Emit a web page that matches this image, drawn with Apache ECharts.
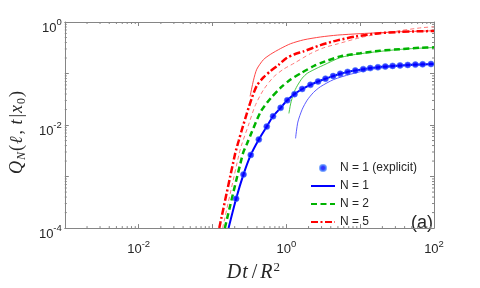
<!DOCTYPE html>
<html><head><meta charset="utf-8">
<script src="https://cdn.jsdelivr.net/npm/echarts@6/dist/echarts.min.js"></script>
<style>html,body{margin:0;padding:0;background:#fff}#c{width:480px;height:288px}</style>
</head><body><div id="c"></div>
<script>
// ---- data ----
const explicitT = [0.209, 0.263, 0.330, 0.424, 0.543, 0.661, 0.838, 1.03, 1.29, 1.64, 2.12, 2.69, 3.39, 4.30, 5.37, 6.76, 8.59, 11.0, 13.7, 17.4, 21.9, 27.5, 34.7, 44.1, 55.9, 70.2, 91.0];
const explicitQ = [3.72e-4, 1.10e-3, 2.63e-3, 5.25e-3, 9.33e-3, 0.0148, 0.0216, 0.0302, 0.0398, 0.0501, 0.0603, 0.0700, 0.0794, 0.0891, 0.0989, 0.1076, 0.1148, 0.1216, 0.1274, 0.1324, 0.1368, 0.1406, 0.1439, 0.1466, 0.1489, 0.1510, 0.1528];

const n1T = [0.165, 0.209, 0.263, 0.330, 0.424, 0.543, 0.661, 0.838, 1.03, 1.29, 1.64, 2.12, 2.69, 3.39, 4.30, 5.37, 6.76, 8.59, 11.0, 13.7, 17.4, 21.9, 27.5, 34.7, 44.1, 55.9, 70.2, 91.0, 100];
const n1Q = [1e-4, 3.72e-4, 1.10e-3, 2.63e-3, 5.25e-3, 9.33e-3, 0.0148, 0.0216, 0.0302, 0.0398, 0.0501, 0.0603, 0.0700, 0.0794, 0.0891, 0.0989, 0.1076, 0.1148, 0.1216, 0.1274, 0.1324, 0.1368, 0.1406, 0.1439, 0.1466, 0.1489, 0.1510, 0.1528, 0.1532];

const n2T = [0.147, 0.258, 0.292, 0.330, 0.451, 0.614, 0.838, 1.14, 1.64, 2.36, 2.90, 5.39, 10.0, 18.6, 34.7, 64.6, 100];
const n2Q = [1e-4, 2.79e-3, 4.27e-3, 6.55e-3, 0.0183, 0.0332, 0.0531, 0.0764, 0.105, 0.140, 0.159, 0.215, 0.247, 0.277, 0.297, 0.316, 0.322];

const n5T = [0.1236, 0.2028, 0.2275, 0.250, 0.2917, 0.3404, 0.398, 0.494, 0.614, 0.787, 1.009, 1.294, 1.711, 2.90, 4.91, 8.59, 18.6, 34.7, 64.6, 100];
const n5Q = [1e-4, 2.79e-3, 5.07e-3, 8.11e-3, 0.01676, 0.0332, 0.0579, 0.0850, 0.1122, 0.148, 0.1999, 0.237, 0.269, 0.356, 0.440, 0.522, 0.607, 0.641, 0.661, 0.669];

// thin approximation curves
const approx5DashT = [0.1371, 0.2297, 0.250, 0.3076, 0.3776, 0.490, 0.668, 0.912, 1.306, 2.125, 3.21, 4.87, 10.0, 18.6, 34.7, 68.1, 100];
const approx5DashQ = [1e-4, 2.79e-3, 4.27e-3, 0.01004, 0.0236, 0.0482, 0.0850, 0.121, 0.1614, 0.244, 0.316, 0.374, 0.496, 0.594, 0.681, 0.774, 0.808];

const approx5T = [0.323, 0.359, 0.398, 0.490, 0.614, 0.838, 1.143, 1.711, 2.90, 4.91, 10.0, 18.6, 34.7, 100];
const approx5Q = [0.0361, 0.0738, 0.121, 0.186, 0.237, 0.306, 0.379, 0.450, 0.512, 0.557, 0.594, 0.620, 0.647, 0.675];

const approx2T = [1.084, 1.143, 1.254, 1.407, 1.644, 1.919, 2.618, 3.18, 5.39, 10.0, 34.7, 100];
const approx2Q = [0.0168, 0.0257, 0.0411, 0.0579, 0.0815, 0.1009, 0.1276, 0.145, 0.204, 0.242, 0.294, 0.320];

const approx1T = [1.334, 1.432, 1.644, 1.919, 2.333, 2.90, 4.38, 7.36, 13.68, 34.7, 100];
const approx1Q = [5.52e-3, 0.01142, 0.0203, 0.0305, 0.0429, 0.0555, 0.0764, 0.0966, 0.1197, 0.139, 0.150];

const legendNames = ['N = 1 (explicit)', 'N = 1', 'N = 2', 'N = 5'];
const xTickLabelExps = [-2, 0, 2];
const yTickLabelExps = [0, -2, -4];
const panelLabel = '(a)';

// ---- helpers ----
const zip = (a, b) => a.map((v, i) => [v, b[i]]);
const axisColor = '#858585';
const textColor = '#262626';
const sans = 'Liberation Sans, Arial, sans-serif';
const serif = 'Liberation Serif, Times New Roman, serif';

function expFormatter(list) {
  return v => {
    const e = Math.round(Math.log10(v));
    return list.includes(e) ? '{b|10}{s|' + e + '}' : '';
  };
}
const labelRich = {
  b: {fontSize: 13, lineHeight: 17, verticalAlign: 'bottom', color: textColor, fontFamily: sans},
  s: {fontSize: 9.5, lineHeight: 10, verticalAlign: 'top', color: textColor, fontFamily: sans}
};

const minorX = [];
for (let d = -3; d < 2; d++) for (let m = 2; m < 10; m++) minorX.push(m * Math.pow(10, d));
const minorY = [];
for (let d = -4; d < 0; d++) for (let m = 2; m < 10; m++) minorY.push(m * Math.pow(10, d));
const minorData = minorX.map(v => [v, 1e-4, 0]).concat(minorY.map(v => [1e-3, v, 1]));

const XMIN = 1e-3, XMAX = 100, YMIN = 1e-4, YMAX = 1;

function baseAxis(extra) {
  return Object.assign({
    type: 'log', logBase: 10,
    axisLine: {show: true, lineStyle: {color: axisColor, width: 1}},
    axisTick: {show: true, inside: true, length: 4, lineStyle: {color: axisColor}},
    splitLine: {show: false},
    minorTick: {show: false},
    minorSplitLine: {show: false}
  }, extra);
}

const chart = echarts.init(document.getElementById('c'), null, {renderer: 'canvas'});
chart.setOption({
  animation: false,
  backgroundColor: '#fff',
  grid: {left: 62, right: 46, top: 22, bottom: 50, containLabel: false},
  xAxis: [
    baseAxis({
      min: XMIN, max: XMAX, position: 'bottom',
      axisLabel: {formatter: expFormatter(xTickLabelExps), margin: 11, rich: labelRich},
      name: '{i|D}{i|t}{r|/}{i|R}{sup|2}',
      nameLocation: 'middle', nameGap: 27,
      nameTextStyle: {
        padding: [0, 0, 0, 8],
        rich: {
          i: {fontFamily: serif, fontStyle: 'italic', fontSize: 20, lineHeight: 22, verticalAlign: 'bottom', color: textColor, padding: [0, 1, 0, 0]},
          r: {fontFamily: serif, fontSize: 20, lineHeight: 22, verticalAlign: 'bottom', color: textColor, padding: [0, 3, 0, 3]},
          sup: {fontFamily: serif, fontSize: 13, lineHeight: 12, verticalAlign: 'top', color: textColor}
        }
      }
    }),
    baseAxis({min: XMIN, max: XMAX, position: 'top', axisLabel: {show: false}})
  ],
  yAxis: [
    baseAxis({
      min: YMIN, max: YMAX, position: 'left',
      axisLabel: {formatter: expFormatter(yTickLabelExps), margin: 3, rich: labelRich, padding: [8, 0, 0, 0]},
      name: '{i|Q}{sub|N}{r|(}{i|ℓ}{r|, }{i|t}{r||}{i|x}{sub0|0}{r|)}',
      nameLocation: 'middle', nameGap: 36, nameRotate: 90,
      nameTextStyle: {
        padding: [0, 14, 0, 0],
        rich: {
          i: {fontFamily: serif, fontStyle: 'italic', fontSize: 18, lineHeight: 22, verticalAlign: 'middle', color: textColor, padding: [0, 1, 0, 0]},
          r: {fontFamily: serif, fontSize: 18, lineHeight: 22, verticalAlign: 'middle', color: textColor, padding: [0, 1, 0, 1]},
          sub: {fontFamily: serif, fontStyle: 'italic', fontSize: 12, lineHeight: 10, verticalAlign: 'bottom', color: textColor},
          sub0: {fontFamily: serif, fontSize: 12, lineHeight: 10, verticalAlign: 'bottom', color: textColor}
        }
      }
    }),
    baseAxis({min: YMIN, max: YMAX, position: 'right', axisLabel: {show: false}})
  ],
  legend: {
    orient: 'vertical', left: 310, top: 162, padding: 0,
    itemWidth: 24, itemHeight: 6, itemGap: 6,
    data: [
      {name: legendNames[0]},
      {name: legendNames[1], itemStyle: {opacity: 0}},
      {name: legendNames[2], itemStyle: {opacity: 0}},
      {name: legendNames[3], itemStyle: {opacity: 0}}
    ],
    selectedMode: false,
    textStyle: {fontSize: 12, fontFamily: sans, color: textColor}
  },
  graphic: [{
    type: 'text', left: 411, top: 214, silent: true,
    style: {text: panelLabel, fontSize: 18, fontFamily: sans, fill: textColor}
  }],
  series: [
    {type: 'custom', silent: true, clip: false, z: 1, encode: {x: 0, y: 1},
     data: minorData,
     renderItem: (params, api) => {
       const kind = api.value(2);
       const L = 2;
       if (kind === 0) {
         const b = api.coord([api.value(0), YMIN]);
         const t = api.coord([api.value(0), YMAX]);
         return {type: 'group', children: [
           {type: 'line', shape: {x1: b[0], y1: b[1], x2: b[0], y2: b[1] - L}, style: {stroke: axisColor, lineWidth: 1}},
           {type: 'line', shape: {x1: t[0], y1: t[1], x2: t[0], y2: t[1] + L}, style: {stroke: axisColor, lineWidth: 1}}
         ]};
       } else {
         const l = api.coord([XMIN, api.value(1)]);
         const r = api.coord([XMAX, api.value(1)]);
         return {type: 'group', children: [
           {type: 'line', shape: {x1: l[0], y1: l[1], x2: l[0] + L, y2: l[1]}, style: {stroke: axisColor, lineWidth: 1}},
           {type: 'line', shape: {x1: r[0], y1: r[1], x2: r[0] - L, y2: r[1]}, style: {stroke: axisColor, lineWidth: 1}}
         ]};
       }
     }},
    {name: 'approx5dash', type: 'line', data: zip(approx5DashT, approx5DashQ), symbol: 'none', smooth: 0.25, z: 2,
     lineStyle: {color: '#ff7a7a', width: 1, type: [4, 3]}},
    {name: 'approx5', type: 'line', data: zip(approx5T, approx5Q), symbol: 'none', smooth: 0.25, z: 2,
     lineStyle: {color: '#ff3030', width: 0.9}},
    {name: 'approx2', type: 'line', data: zip(approx2T, approx2Q), symbol: 'none', smooth: 0.25, z: 2,
     lineStyle: {color: '#30c030', width: 0.9}},
    {name: 'approx1', type: 'line', data: zip(approx1T, approx1Q), symbol: 'none', smooth: 0.25, z: 2,
     lineStyle: {color: '#4a4aff', width: 0.9}},
    {name: 'N = 5', type: 'line', data: zip(n5T, n5Q), symbol: 'none', smooth: 0.25, z: 3,
     color: '#ff0000', lineStyle: {color: '#ff0000', width: 2.5, type: [7, 2.5, 2, 2.5]}},
    {name: 'N = 2', type: 'line', data: zip(n2T, n2Q), symbol: 'none', smooth: 0.25, z: 3,
     color: '#00b300', lineStyle: {color: '#00b300', width: 2.5, type: [6, 3.5]}},
    {name: 'N = 1', type: 'line', data: zip(n1T, n1Q), symbol: 'none', smooth: 0.25, z: 4,
     color: '#0000ff', lineStyle: {color: '#0000ff', width: 2}},
    {name: 'N = 1 (explicit)', type: 'scatter', data: zip(explicitT, explicitQ), symbol: 'circle', symbolSize: 6, z: 5,
     itemStyle: {color: '#0000ff', borderColor: 'rgba(70,130,255,0.9)', borderWidth: 0.8}}
  ]
});
</script></body></html>
